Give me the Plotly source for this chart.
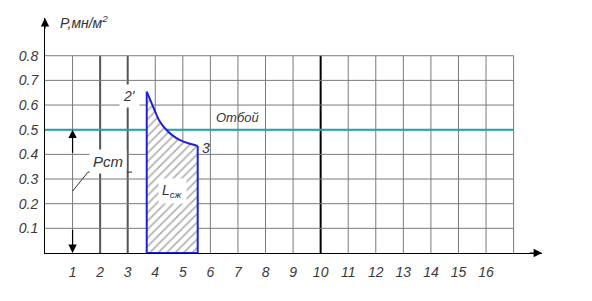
import plotly.graph_objects as go

# ---- data ----
x_ticks = list(range(1, 17))
x_tick_labels = [str(v) for v in x_ticks]
y_ticks = [0.1, 0.2, 0.3, 0.4, 0.5, 0.6, 0.7, 0.8]
y_tick_labels = ["0.1", "0.2", "0.3", "0.4", "0.5", "0.6", "0.7", "0.8"]
grid_x_end = 17
grid_y_top = 0.8
thick_x = [2, 3]
bold_x = [10]

# compression curve 2' -> 3
V_curve = [3.69, 3.87, 4.02, 4.17, 4.35, 4.60, 4.90, 5.20, 5.54]
P_curve = [0.654, 0.607, 0.567, 0.532, 0.506, 0.479, 0.458, 0.445, 0.434]

p_otboy = 0.5          # "Отбой" level
p_st_leader_x = [1.0, 1.56, 3.16]
p_st_leader_y = [0.251, 0.328, 0.328]

X_MAX = 18.03
Y_MAX = 0.953

fig = go.Figure()

def vlines(xs):
    X, Y = [], []
    for v in xs:
        X += [v, v, None]
        Y += [0, grid_y_top, None]
    return X, Y

thin_x = [v for v in list(range(1, grid_x_end + 1)) if v not in thick_x + bold_x]
X, Y = vlines(thin_x)
fig.add_trace(go.Scatter(x=X, y=Y, mode="lines", line=dict(color="#7a7a7a", width=1), hoverinfo="skip"))
X, Y = vlines(thick_x)
fig.add_trace(go.Scatter(x=X, y=Y, mode="lines", line=dict(color="#555555", width=2), hoverinfo="skip"))
X, Y = vlines(bold_x)
fig.add_trace(go.Scatter(x=X, y=Y, mode="lines", line=dict(color="#000000", width=2), hoverinfo="skip"))

HX, HY = [], []
for v in y_ticks:
    HX += [0, grid_x_end, None]
    HY += [v, v, None]
fig.add_trace(go.Scatter(x=HX, y=HY, mode="lines", line=dict(color="#7a7a7a", width=1), hoverinfo="skip"))

# Otboy line
fig.add_trace(go.Scatter(x=[0, grid_x_end], y=[p_otboy, p_otboy], mode="lines",
                         line=dict(color="#1fa3a3", width=2), hoverinfo="skip"))

# hatched work area (fill only)
poly_x = V_curve + [V_curve[-1], V_curve[0], V_curve[0]]
poly_y = P_curve + [0, 0, P_curve[0]]
fig.add_trace(go.Scatter(x=poly_x, y=poly_y, mode="lines", fill="toself",
                         fillcolor="white",
                         fillpattern=dict(shape="/", fgcolor="#666666", bgcolor="white", size=6, solidity=0.3),
                         line=dict(width=0, color="rgba(0,0,0,0)"), hoverinfo="skip"))
# outline: smooth curve + straight sides
fig.add_trace(go.Scatter(x=V_curve, y=P_curve, mode="lines",
                         line=dict(color="#2020d8", width=2, shape="spline", smoothing=0.8),
                         hoverinfo="skip"))
fig.add_trace(go.Scatter(x=[V_curve[-1], V_curve[-1], V_curve[0], V_curve[0]],
                         y=[P_curve[-1], 0, 0, P_curve[0]], mode="lines",
                         line=dict(color="#2020d8", width=2), hoverinfo="skip"))

# leader for Pст
fig.add_trace(go.Scatter(x=p_st_leader_x, y=p_st_leader_y, mode="lines",
                         line=dict(color="#333333", width=1), hoverinfo="skip"))

font_it = dict(family="Liberation Sans", size=14, color="#3a3a3a", style="italic")

ann = []
def label(x, y, text, size=14, bg=None, xanchor="center"):
    d = dict(x=x, y=y, xref="x", yref="y", text=text, showarrow=False,
             font=dict(family="Liberation Sans", size=size, color="#333333", style="italic"),
             xanchor=xanchor, yanchor="middle")
    if bg:
        d.update(bgcolor=bg, borderpad=3)
    ann.append(d)

def arrow(x, y, ax, ay):
    ann.append(dict(x=x, y=y, ax=ax, ay=ay, xref="x", yref="y", axref="x", ayref="y",
                    text="", showarrow=True, arrowhead=2, arrowsize=1.4, arrowwidth=1.2,
                    arrowcolor="#000000", standoff=0, startstandoff=0))

label(3.08, 0.637, "2'", bg="white")
label(5.84, 0.426, "3")
label(4.64, 0.251, "L<sub>сж</sub>", bg="white")
label(7.0, 0.551, "Отбой", size=13)
label(2.29, 0.373, "Pст", size=15, bg="white")
label(0.47, 0.937, "P,мн/м<sup>2</sup>", size=14, xanchor="left")
label(17.6, -0.061, "V·10<sup>-3</sup>,м<sup>3</sup>", size=13, xanchor="left")

# axis arrows
arrow(0, Y_MAX, 0, Y_MAX - 0.05)
arrow(X_MAX, 0, X_MAX - 0.5, 0)
# Pст dimension arrows
arrow(1, 0.5, 1, 0.4)
arrow(1, 0, 1, 0.1)

fig.update_layout(
    width=592, height=301,
    margin=dict(l=45, r=50, t=18, b=48),
    paper_bgcolor="white", plot_bgcolor="white",
    showlegend=False,
    annotations=ann,
    xaxis=dict(range=[0, X_MAX], tickvals=x_ticks, ticktext=x_tick_labels,
               showgrid=False, zeroline=False, showline=True, linecolor="#000000", linewidth=1,
               ticks="outside", ticklen=6, tickcolor="rgba(0,0,0,0)", tickfont=font_it),
    yaxis=dict(range=[0, Y_MAX], tickvals=y_ticks, ticktext=y_tick_labels,
               showgrid=False, zeroline=False, showline=True, linecolor="#000000", linewidth=1,
               ticks="outside", ticklen=3, tickcolor="rgba(0,0,0,0)", tickfont=font_it),
)

fig.write_html("out.html", config={"displayModeBar": False},
               post_script="document.body.style.margin='0';")
